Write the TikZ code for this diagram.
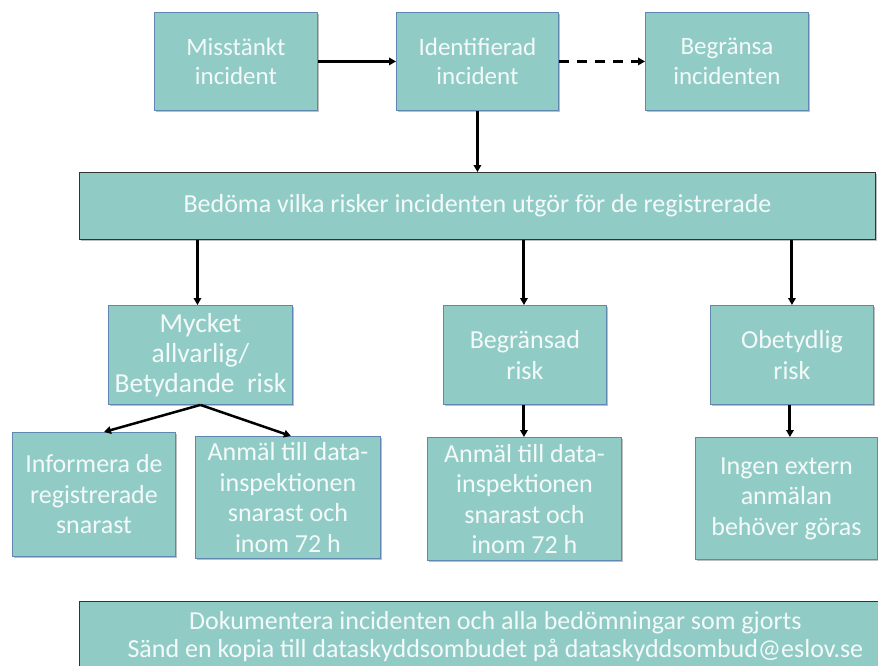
\documentclass[tikz,border=0pt]{standalone}
\usepackage{fontspec}
\setmainfont{Carlito}
\usetikzlibrary{arrows.meta,shadows}
\definecolor{boxfill}{RGB}{144,204,197}
\definecolor{boxline}{RGB}{95,135,175}
\definecolor{txt}{RGB}{244,250,249}
\tikzset{
  box/.style={draw=boxline, line width=0.9pt, fill=boxfill, text=txt, align=center, inner sep=0pt, anchor=north west,
    drop shadow={shadow xshift=1.5pt, shadow yshift=-1.5pt, opacity=0.25, fill=black}},
  darkbox/.style={box, draw=black!80},
  arr/.style={-{Triangle[length=7pt,width=7.5pt]}, line width=3pt, black},
  big/.style={font=\fontsize{25}{29.5}\selectfont},
  mid/.style={font=\fontsize{26}{30.5}\selectfont},
  wide/.style={font=\fontsize{26}{28}\selectfont},
}
\begin{document}
\begin{tikzpicture}[x=1pt,y=-1pt]
\useasboundingbox (0,0) rectangle (878,666);
\clip (0,0) rectangle (878,666);
\fill[white] (0,0) rectangle (878,666);
% top row
\node[box, big, minimum width=163pt, minimum height=98pt] (mis) at (154,12) {Misstänkt\\incident};
\node[box, big, minimum width=162pt, minimum height=98pt] (ide) at (396,12) {Identifierad\\incident};
\node[box, big, minimum width=163pt, minimum height=98pt] (beg) at (645,12) {Begränsa\\incidenten};
% wide box
\node[darkbox, wide, minimum width=796pt, minimum height=67pt] (bed) at (79,172) {Bedöma vilka risker incidenten utgör för de registrerade};
% risk boxes
\node[box, font=\fontsize{27.5}{30}\selectfont, minimum width=184pt, minimum height=99pt] (myc) at (108,305) {Mycket\\allvarlig/\\Betydande~ risk};
\node[box, mid, minimum width=163pt, minimum height=99pt] (bri) at (443,305) {Begränsad\\risk};
\node[box, mid, minimum width=163pt, minimum height=99pt] (obe) at (710,305) {Obetydlig\\risk};
% lower boxes
\node[box, mid, minimum width=163pt, minimum height=124pt] (inf) at (12,432) {Informera de\\registrerade\\snarast};
\node[box, mid, minimum width=185pt, minimum height=122pt] (an1) at (195,436) {Anmäl till data-\\inspektionen\\snarast och\\inom 72 h};
\node[box, mid, minimum width=194pt, minimum height=123pt] (an2) at (427,437) {Anmäl till data-\\inspektionen\\snarast och\\inom 72 h};
\node[box, mid, minimum width=182pt, minimum height=122pt] (ing) at (695,437) {Ingen extern\\anmälan\\behöver göras};
% bottom box
\node[darkbox, wide, minimum width=832pt, minimum height=70pt] (dok) at (79,601) {Dokumentera incidenten och alla bedömningar som gjorts\\Sänd en kopia till dataskyddsombudet på dataskyddsombud@eslov.se};
% arrows
\draw[arr] (mis.east) -- (ide.west);
\draw[arr, dash pattern=on 10pt off 8pt] (ide.east) -- (beg.west);
\draw[arr] (ide.south) -- (ide.south |- bed.north);
\draw[arr] (bed.south -| myc.north) ++(-3,0) coordinate (b1) -- (b1 |- myc.north);
\draw[arr] (bed.south -| bri.north) ++(-1,0) coordinate (b2) -- (b2 |- bri.north);
\draw[arr] (bed.south -| obe.north) coordinate (b3) -- (b3 |- obe.north);
\coordinate (mb) at (myc.south);
\draw[arr, line width=2.5pt] (mb) -- ([xshift=10pt]inf.north);
\draw[arr, line width=2.5pt] (mb) -- ([xshift=3pt]an1.north);
\draw[arr] (bri.south) ++(-1,0) coordinate (c2) -- (c2 |- an2.north);
\draw[arr] (obe.south) ++(-2,0) coordinate (c3) -- (c3 |- ing.north);
\end{tikzpicture}
\end{document}
